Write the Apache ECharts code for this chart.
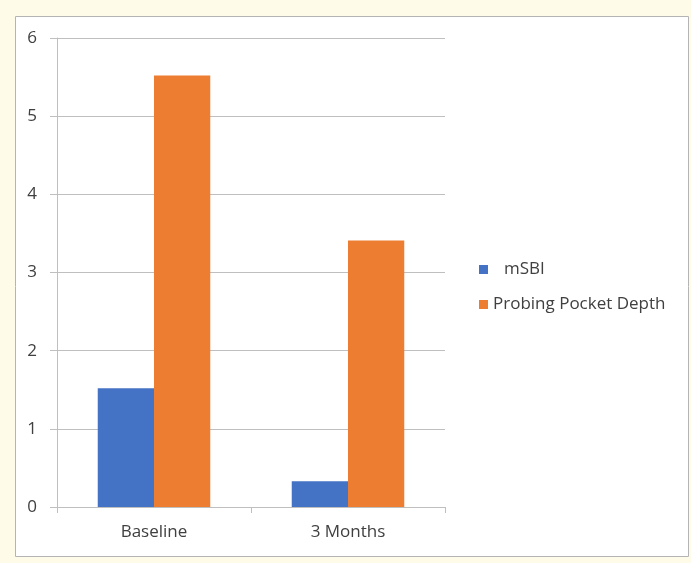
<!DOCTYPE html>
<html>
<head>
<meta charset="utf-8">
<style>
  html, body { margin: 0; padding: 0; background: #fefbe8; }
  #chart { width: 691px; height: 563px; }
</style>
<script src="https://cdn.jsdelivr.net/npm/echarts@6/dist/echarts.min.js"></script>
</head>
<body>
<div id="chart"></div>
<script>
// data
const categories = ['Baseline', '3 Months']
const msbi = [1.52, 0.33]
const pocketDepth = [5.52, 3.41]

const font = '"Open Sans", Lato, sans-serif'
const textColor = '#404040'
const lineColor = '#bfbfbf'

const chart = echarts.init(document.getElementById('chart'))

chart.setOption({
  backgroundColor: '#fefbe8',
  animation: false,
  textStyle: { fontFamily: font },
  graphic: [
    {
      type: 'rect',
      shape: { x: 15.5, y: 16.5, width: 673, height: 540 },
      style: { fill: '#ffffff', stroke: '#b4b4b4', lineWidth: 1 },
      z: -10
    }
  ],
  grid: {
    left: 57,
    top: 38,
    right: 246,
    bottom: 56
  },
  legend: [
    {
      data: ['mSBI'],
      left: 479,
      top: 261,
      padding: 0,
      itemWidth: 9,
      itemHeight: 9,
      itemGap: 0,
      icon: 'rect',
      textStyle: { fontFamily: font, fontSize: 17, color: textColor, padding: [0, 0, 0, 11] }
    },
    {
      data: ['Probing Pocket Depth'],
      left: 479,
      top: 296,
      padding: 0,
      itemWidth: 9,
      itemHeight: 9,
      itemGap: 0,
      icon: 'rect',
      textStyle: { fontFamily: font, fontSize: 17, color: textColor }
    }
  ],
  xAxis: {
    type: 'category',
    data: categories,
    axisLine: { lineStyle: { color: lineColor } },
    axisTick: { show: true, length: 6, lineStyle: { color: lineColor } },
    axisLabel: { fontFamily: font, fontSize: 17, color: textColor, margin: 17 }
  },
  yAxis: {
    type: 'value',
    min: 0,
    max: 6,
    interval: 1,
    axisLine: { show: true, lineStyle: { color: lineColor } },
    axisTick: { show: true, length: 7, lineStyle: { color: lineColor } },
    axisLabel: { fontFamily: font, fontSize: 17, color: textColor, margin: 20 },
    splitLine: { lineStyle: { color: lineColor } }
  },
  series: [
    {
      name: 'mSBI',
      type: 'bar',
      data: msbi,
      itemStyle: { color: '#4472c4' },
      barGap: '0%',
      barCategoryGap: '42%'
    },
    {
      name: 'Probing Pocket Depth',
      type: 'bar',
      data: pocketDepth,
      itemStyle: { color: '#ed7d31' }
    }
  ]
})
</script>
</body>
</html>
